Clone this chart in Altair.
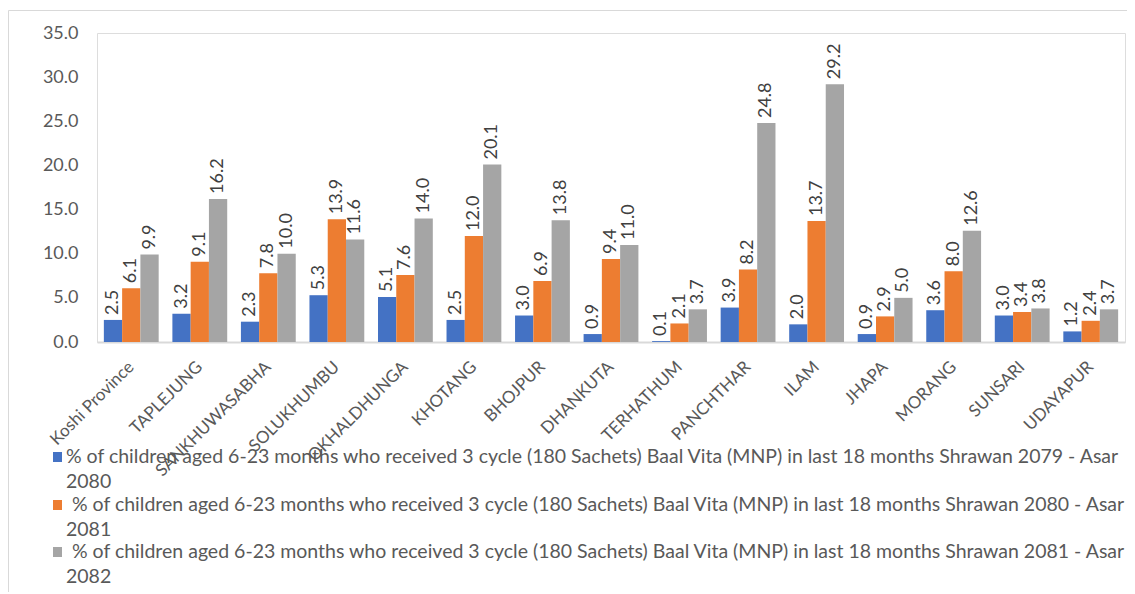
import altair as alt
import pandas as pd

categories = ["Koshi Province", "TAPLEJUNG", "SANKHUWASABHA", "SOLUKHUMBU", "OKHALDHUNGA",
              "KHOTANG", "BHOJPUR", "DHANKUTA", "TERHATHUM", "PANCHTHAR", "ILAM", "JHAPA",
              "MORANG", "SUNSARI", "UDAYAPUR"]
s2080 = [2.5, 3.2, 2.3, 5.3, 5.1, 2.5, 3.0, 0.9, 0.1, 3.9, 2.0, 0.9, 3.6, 3.0, 1.2]
s2081 = [6.1, 9.1, 7.8, 13.9, 7.6, 12.0, 6.9, 9.4, 2.1, 8.2, 13.7, 2.9, 8.0, 3.4, 2.4]
s2082 = [9.9, 16.2, 10.0, 11.6, 14.0, 20.1, 13.8, 11.0, 3.7, 24.8, 29.2, 5.0, 12.6, 3.8, 3.7]
prefix = "% of children aged 6-23 months who received  3 cycle (180 Sachets) Baal Vita (MNP) in last 18 months "
series = [prefix + "Shrawan 2079 - Asar 2080",
          prefix + "Shrawan 2080 - Asar 2081",
          prefix + "Shrawan 2081 - Asar 2082"]
colors = ["#4472C4", "#ED7D31", "#A5A5A5"]
yticks = [0, 5, 10, 15, 20, 25, 30, 35]

rows = []
for vals, s in zip([s2080, s2081, s2082], series):
    for c, v in zip(categories, vals):
        rows.append({"category": c, "series": s, "value": v})
df = pd.DataFrame(rows)

FONT = "Lato"
W, H = 1028, 309

x = alt.X("category:N", sort=categories, title=None,
          scale=alt.Scale(paddingInner=0.2, paddingOuter=0.1),
          axis=alt.Axis(labelAngle=-45, labelAlign="right", labelBaseline="middle",
                        labelOffset=0, labelPadding=22, ticks=False,
                        domainColor="#d9d9d9", domainWidth=2,
                        labelColor="#595959", labelFontSize=17, labelFont=FONT,
                        labelLimit=300))
xo = alt.XOffset("series:N", sort=series)
y = alt.Y("value:Q", title=None,
          scale=alt.Scale(domain=[0, 35], nice=False),
          axis=alt.Axis(values=yticks, format=".1f", grid=False, ticks=False, domain=False,
                        labelColor="#595959", labelFontSize=18, labelFont=FONT,
                        labelPadding=19))
color = alt.Color("series:N", sort=series,
                  scale=alt.Scale(domain=series, range=colors), legend=None)

base = alt.Chart(df)
bars = base.mark_bar().encode(x=x, xOffset=xo, y=y, color=color)
labels = base.mark_text(angle=270, align="left", baseline="middle", dx=5,
                        fontSize=18, font=FONT, color="#404040").encode(
    x=x, xOffset=xo, y=y, text=alt.Text("value:Q", format=".1f"))

# outer frame
frame = alt.Chart(pd.DataFrame({"a": [0]})).mark_rect(
    fill=None, stroke="#d9d9d9", strokeWidth=1).encode(
    x=alt.value(-88.5), x2=alt.value(1031), y=alt.value(-22.5), y2=alt.value(575))

# legend
legend_layers = []
ys = [424, 472, 519]
xs = [-31, -25, -25]
for i, s in enumerate(series):
    first, second = s.rsplit(" ", 1)
    sq = alt.Chart(pd.DataFrame({"a": [0]})).mark_rect(color=colors[i]).encode(
        x=alt.value(-44), x2=alt.value(-35), y=alt.value(ys[i] - 5), y2=alt.value(ys[i] + 5))
    t1 = alt.Chart(pd.DataFrame({"a": [0]})).mark_text(
        text=first, align="left", baseline="middle", fontSize=19.5, font=FONT,
        color="#595959").encode(x=alt.value(xs[i]), y=alt.value(ys[i]))
    t2 = alt.Chart(pd.DataFrame({"a": [0]})).mark_text(
        text=second, align="left", baseline="middle", fontSize=19.5, font=FONT,
        color="#595959").encode(x=alt.value(-31), y=alt.value(ys[i] + 25))
    legend_layers += [sq, t1, t2]

chart = alt.layer(frame, bars, labels, *legend_layers).properties(
    width=W, height=H,
    autosize=alt.AutoSizeParams(type="none"),
    padding={"left": 89, "top": 25, "right": 2, "bottom": 250},
).configure_view(stroke=None).configure(background="white")

chart.save("out.html", embed_options={"renderer": "svg", "actions": False})
